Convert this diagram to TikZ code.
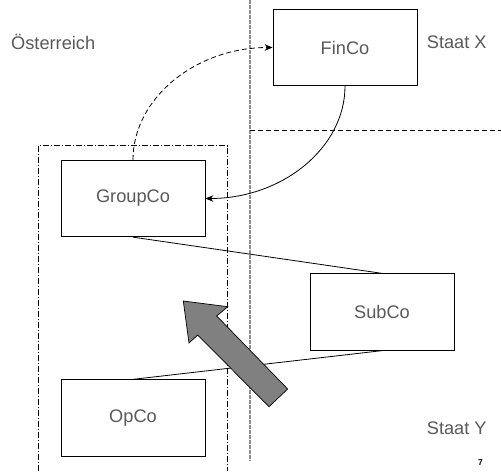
\documentclass[tikz,border=0pt]{standalone}
\usepackage{fontspec}
\setmainfont{Liberation Sans}
\usetikzlibrary{arrows.meta}
\definecolor{txtgray}{RGB}{89,89,89}
\definecolor{bordergray}{RGB}{140,140,140}
\definecolor{arrowfill}{RGB}{128,128,128}
\begin{document}
\begin{tikzpicture}[x=1pt,y=-1pt,
  company/.style={draw=black,line width=0.8pt,minimum width=144pt,minimum height=76.5pt,
    inner sep=0pt,text=txtgray,font=\fontsize{18.2}{22}\selectfont},
  label/.style={inner sep=0pt,text=txtgray,font=\fontsize{18.2}{22}\selectfont},
  flow/.style={line width=0.8pt,-{Stealth[length=8pt,width=6.5pt]}},
  border/.style={line width=0.8pt,dash pattern=on 5pt off 3pt}]
\useasboundingbox (0,0) rectangle (501,474);

% country borders
\draw[bordergray,line width=1.1pt,dash pattern=on 3.5pt off 1.5pt] (250,0) -- (250,461);
\draw[border] (250,130) -- (501,130);

% tax group (open at the bottom)
\draw[line width=0.8pt,dash pattern=on 6pt off 2pt on 1pt off 2pt]
  (38.7,471) -- (38.7,145.7) -- (227.7,145.7) -- (227.7,471);

% companies
\node[company] (FinCo)   at (345,47.5)  {FinCo};
\node[company] (GroupCo) at (133,198.5) {GroupCo};
\node[company] (SubCo)   at (382,312)   {SubCo};
\node[company] (OpCo)    at (133,418)   {OpCo};

% country labels
\node[label,anchor=west] (at) at (11,42)    {Österreich};
\node[label,anchor=west] (sx) at (426.7,42) {Staat X};
\node[label,anchor=west] (sy) at (426.7,428) {Staat Y};
\node[inner sep=0pt,font=\fontsize{8.5}{10}\selectfont\bfseries] (pg) at (480.5,463) {7};

% financing flows
\draw[flow,dash pattern=on 5pt off 3pt] (GroupCo.north) .. controls (133,98) and (196,47.5) .. (FinCo.west);
\draw[flow] (FinCo.south) .. controls (345,148) and (282,198.5) .. (GroupCo.east);

% ownership lines
\draw[line width=0.8pt] (GroupCo.south) -- (SubCo.north);
\draw[line width=0.8pt] (OpCo.north) -- (SubCo.south);

% block arrow
\draw[fill=arrowfill,line width=0.7pt,line join=miter]
  (183.3,301) -- (227.7,306.7) -- (216.7,316) -- (287.7,389) -- (269,406.7)
  -- (197.7,335) -- (189,343) -- cycle;
\end{tikzpicture}
\end{document}
